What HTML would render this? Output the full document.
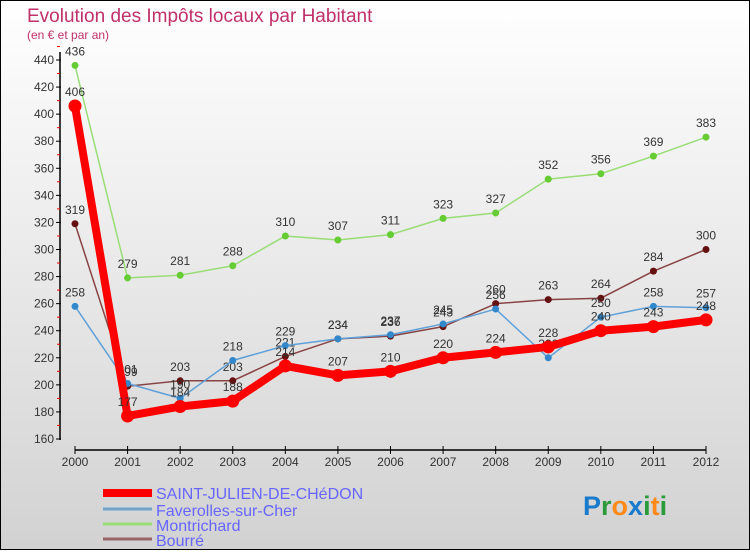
<!DOCTYPE html>
<html><head><meta charset="utf-8"><style>
html,body{margin:0;padding:0}
body{width:750px;height:550px;overflow:hidden;font-family:"Liberation Sans",sans-serif}
</style></head><body>
<svg id="chart" width="750" height="550" xmlns="http://www.w3.org/2000/svg">
<defs><linearGradient id="bg" x1="0" y1="0" x2="0" y2="1"><stop offset="0" stop-color="#ffffff"/><stop offset="1" stop-color="#d2d2d2"/></linearGradient></defs>
<rect x="0.5" y="0.5" width="749" height="549" fill="url(#bg)" stroke="#000"/>
<text x="27" y="22" font-size="19" fill="#c0306a">Evolution des Impôts locaux par Habitant</text>
<text x="27" y="39" font-size="12" fill="#c0306a">(en € et par an)</text>
<g id="axes"></g><g id="series"></g>
<g font-size="16" fill="#6666ff">
<line x1="103" y1="493" x2="152" y2="493" stroke="#f00" stroke-width="8"/>
<text x="156" y="499">SAINT-JULIEN-DE-CHéDON</text>
<line x1="103" y1="509" x2="152" y2="509" stroke="#6fa3cc" stroke-width="3"/>
<text x="156" y="516">Faverolles-sur-Cher</text>
<line x1="103" y1="524" x2="152" y2="524" stroke="#99dd77" stroke-width="3"/>
<text x="156" y="531">Montrichard</text>
<line x1="103" y1="539" x2="152" y2="539" stroke="#996666" stroke-width="3"/>
<text x="156" y="546">Bourré</text>
</g>
<text x="583" y="515" font-size="27" font-weight="bold"><tspan fill="#1a7acc">P</tspan><tspan fill="#2a9a3a">r</tspan><tspan fill="#ff8a1a">o</tspan><tspan fill="#1a7acc">x</tspan><tspan fill="#2a9a3a">i</tspan><tspan fill="#ff8a1a">t</tspan><tspan fill="#2a9a3a">i</tspan></text>
</svg>
<script>
const years=[2000,2001,2002,2003,2004,2005,2006,2007,2008,2009,2010,2011,2012];
const yTicks=[160,180,200,220,240,260,280,300,320,340,360,380,400,420,440];
const stJulien=[406,177,184,188,214,207,210,220,224,228,240,243,248];
const faverolles=[258,201,190,218,229,234,237,245,256,220,250,258,257];
const montrichard=[436,279,281,288,310,307,311,323,327,352,356,369,383];
const bourre=[319,199,203,203,221,234,236,243,260,263,264,284,300];
const NS="http://www.w3.org/2000/svg";
const X=i=>75+i*(706-75)/12;
const Y=v=>439-(v-160)*(379/280);
function mk(t,a,p){const e=document.createElementNS(NS,t);for(const k in a)e.setAttribute(k,a[k]);p.appendChild(e);return e;}
const ax=document.getElementById('axes');
let yl=mk('line',{x1:60,y1:52,x2:60,y2:440,stroke:'#000','stroke-width':1.5},ax);


yTicks.forEach(v=>{
  mk('line',{x1:56,y1:Y(v),x2:61,y2:Y(v),stroke:'#000'},ax);
  mk('line',{x1:57,y1:Y(v+10),x2:60,y2:Y(v+10),stroke:'#f00'},ax);
  const t=mk('text',{x:54,y:Y(v)+4,'font-size':12,fill:'#333','text-anchor':'end'},ax);
  t.textContent=v;
  
  
});
let xl=mk('line',{x1:75,y1:450,x2:706,y2:450,stroke:'#000','stroke-width':1.5},ax);


years.forEach((y,i)=>{
  mk('line',{x1:X(i),y1:446,x2:X(i),y2:454,stroke:'#000'},ax);
  const t=mk('text',{x:X(i),y:466,'font-size':12,fill:'#333','text-anchor':'middle'},ax);
  t.textContent=y;
  
  
});
const sg=document.getElementById('series');
function draw(name,vals,color,dot,w,r){
  const g=mk('g',{},sg);
  
  
  mk('polyline',{points:vals.map((v,i)=>X(i)+','+Y(v)).join(' '),fill:'none',stroke:color,'stroke-width':w,'stroke-linejoin':'round'},g);
  vals.forEach((v,i)=>{
    const c=mk('circle',{cx:X(i),cy:Y(v),r:r,fill:dot},g);
    
    
    const t=mk('text',{x:X(i),y:Y(v)-10,'font-size':12,fill:'#333','text-anchor':'middle'},g);
    t.textContent=v;
    
    
  });
}
draw('montrichard-series',montrichard,'#99dd77','#66cc33',1.5,3.5);
draw('bourre-series',bourre,'#884444','#661111',1.5,3.5);
draw('faverolles-series',faverolles,'#5fa0d8','#3388cc',1.5,3.5);
draw('saint-julien-series',stJulien,'#f00','#f00',8,6.5);
</script>
</body></html>
